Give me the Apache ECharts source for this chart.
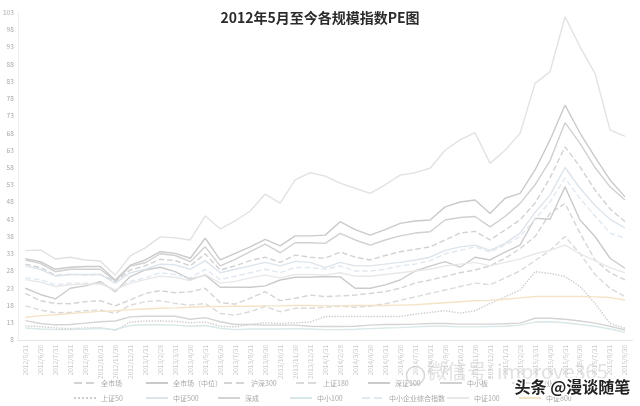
<!DOCTYPE html>
<html><head><meta charset="utf-8">
<script src="https://cdn.jsdelivr.net/npm/echarts@6/dist/echarts.min.js"></script>
<style>html,body{margin:0;padding:0;background:#fff}#c{width:640px;height:406px}</style>
</head><body><div id="c"></div>
<script>
const categories = ["2012/5/31","2012/6/30","2012/7/31","2012/8/31","2012/9/30","2012/10/31","2012/11/30","2012/12/31",
"2013/1/31","2013/2/28","2013/3/31","2013/4/30","2013/5/31","2013/6/30","2013/7/31","2013/8/31","2013/9/30","2013/10/31","2013/11/30","2013/12/31",
"2014/1/31","2014/2/28","2014/3/31","2014/4/30","2014/5/31","2014/6/30","2014/7/31","2014/8/31","2014/9/30","2014/10/31","2014/11/30","2014/12/31",
"2015/1/31","2015/2/28","2015/3/31","2015/4/30","2015/5/31","2015/6/30","2015/7/31","2015/8/31","2015/9/30"];
const yTicks = {min: 8, max: 103, step: 5};

const quanShiChang = [30,29,26.8,27,26.9,27,25,28.3,29.5,31.4,31,29.5,33,28.3,29.5,31,32,30.5,32.6,32,31.7,33.5,32,31.2,32.5,33.6,34.3,35,37,39,39.5,37,39.9,42.8,47.7,55,64,58.2,51.5,46,42.3];
const quanShiChangZhong = [31.6,30.7,28.5,29.1,29.3,29.3,25.4,29.7,31.2,33.6,33.1,31.7,37.5,31.2,33.1,35,37.2,35.3,38.2,38.2,38.4,42.3,40,38.4,40,41.8,42.5,42.8,46.6,48,48.6,44.7,49.1,50.5,57.3,66,76.1,68,61,54.4,49.5];
const hs300 = [21.5,19.4,18.6,18.5,19.1,19.4,17.9,19.6,21.5,22.3,21.7,22,23,18.8,18.4,20.1,22,19.4,20.1,21,20.6,20.8,21,21.5,22,23,24.5,25.4,26.4,27.5,28.3,29.5,31.7,34.5,38,44.7,47.6,39,31.2,27.5,25.4];
const sz180 = [17.9,16.7,15.9,16,16.5,16.7,15.7,18.1,19.1,19.4,18.6,18.1,18.6,15.7,15.2,16.2,17.7,16.2,17.2,17.2,17.5,17.8,17.5,17.8,18.5,19.5,20.5,21.5,22.5,23.5,24.5,24,26,28,31,34,38,33,27,23,20.6];
const szzs100 = [23,21.2,19.9,23,23.7,24.9,22,26.4,28.3,29.1,27.8,25.6,26.8,23.3,23.3,23.3,23.7,25.4,26.2,26.2,26.4,26.3,23,23,24,25.4,28,29.4,30.7,29.1,32,31.2,33.5,35.5,43.3,43,52.4,42.8,38,31.7,28.8];
const zhongXiao = [31.2,30.2,27.8,28.5,28.5,28.5,25.1,29.4,30.4,33,32.5,30.7,35,29.5,31.4,33.6,35.8,33.3,36.2,36.2,36,38.9,37,35.5,37,38.2,39,39.4,42.8,43.5,43.8,40.8,43.8,47.6,53,60,71,65,58,52.4,48.6];
const chuangYe = [33.9,34.1,31.5,32,31.2,30.9,26.8,32.4,34.7,37.9,37.6,37,44,40.2,42.5,45.4,50.3,47.7,54.4,56.5,55.5,53.5,52,50.5,53,55.8,56.5,57.8,63,66,68.1,59.2,63,67.9,82.4,85.8,101.7,93,85.3,68.9,67];
const sz50 = [12.1,11.9,11.5,11.3,11.5,11.6,10.8,13.2,13.5,13.5,13.4,13,13.2,12,11.8,12.5,13,12.8,13,13.2,14.8,14.8,14.8,14.8,14.8,14.8,15.5,16,16.5,15.8,16.5,18.6,20.5,22.5,27.8,27.3,26.4,23.5,18.6,12.8,11.4];
const zz500 = [29.5,28.5,26.5,27,27,27,24.5,27.5,28.5,30,29.8,28.5,31,27.5,28.5,29.5,30.5,29.5,30.8,30.5,29,30.5,29.5,29.5,30,30.5,31.2,32,34,35,35.5,34,36,39,45,50,58,52,47,43,40.5];
const shenCheng = [13.6,12.8,12.4,12.5,12.9,13.3,13.5,14.7,14.9,14.9,14.9,14,14.5,13.3,12.5,12.5,12.3,12.3,12.3,12,11.9,11.9,12,12.3,12.5,12.5,12.6,12.8,12.8,12.6,12.6,12.6,12.7,12.9,14.3,14.3,14,13.5,12.9,12,10.9];
const zz100 = [11.5,11.2,11,11,11.2,11.4,11,12.2,12.4,12.4,12.3,12,12.2,11.4,11,11.2,11.2,11.2,11.3,11.2,11,11,11.1,11.3,11.5,11.6,11.8,12,12,11.8,11.8,11.9,12,12.3,13.2,13.3,13,12.5,12,11.2,10.2];
const zxqy = [26,25.5,24,24.5,24.5,24.5,22.5,25,26,27.5,27,26,28.5,25.5,26.5,27.5,28.5,27.5,29,29,28.5,29.5,28,28,28.5,29.5,30,31,33,34,35,33.5,35.5,38,43,48,55,49,44,39,37.5];
const zz200 = [25.5,24.8,23.5,24,24.2,24.3,22.5,24.5,25.5,26.5,26.2,25.2,27,24.5,25,26,26.8,26,27,27,26.8,27.5,26.5,26.5,27,27.5,28,28.5,29.5,30,30.5,29.5,30.5,31.5,33,34,35.5,33,31,29,27.5];
const zz800 = [14.6,15,15.3,15.7,16,16.3,16.5,16.8,17,17.2,17.3,17.5,17.7,17.7,17.8,17.8,17.9,17.9,18,18,17.9,17.9,18,18,18,18.1,18.2,18.5,18.8,19.1,19.4,19.5,19.8,20.2,20.6,20.6,20.6,20.6,20.5,20.3,19.6];

const seriesDefs = [
  {name:"全市场", data:quanShiChang, color:"#d2d2d2", type:"dashed"},
  {name:"全市场（中位）", data:quanShiChangZhong, color:"#cacaca", type:"solid"},
  {name:"沪深300", data:hs300, color:"#d4d4d4", type:"dashed"},
  {name:"上证180", data:sz180, color:"#dadada", type:"dashed"},
  {name:"深证100", data:szzs100, color:"#cbcbcb", type:"solid"},
  {name:"中小板", data:zhongXiao, color:"#d0d0d0", type:"solid"},
  {name:"创业板", data:chuangYe, color:"#e2e2e2", type:"solid"},
  {name:"上证50", data:sz50, color:"#cccccc", type:"dotted"},
  {name:"中证500", data:zz500, color:"#dde4ec", type:"solid"},
  {name:"深成", data:shenCheng, color:"#d4d4d4", type:"solid"},
  {name:"中小100", data:zz100, color:"#d8e8e8", type:"solid"},
  {name:"中小企业综合指数", data:zxqy, color:"#e0e8f0", type:"dashed"},
  {name:"中证100", data:zz200, color:"#e8e8e8", type:"solid"},
  {name:"中证800", data:zz800, color:"#f4e3c6", type:"solid"}
];

const chart = echarts.init(document.getElementById('c'), null, {renderer:'canvas'});
const FONT = '"Noto Sans CJK SC", "Noto Sans", sans-serif';
chart.setOption({
  animation:false,
  backgroundColor:'#ffffff',
  title:{text:'2012年5月至今各规模指数PE图', left:'center', top:6,
    textStyle:{fontSize:14, fontWeight:'bold', color:'#2b2b2b', fontFamily:FONT}},
  legend:{show:true, left:73, top:376, width:540, itemGap:1, itemWidth:22, itemHeight:8,
    padding:0, itemStyle:{opacity:0},
    textStyle:{fontSize:7, color:'#a8a8a8', fontFamily:FONT, width:43, lineHeight:14, overflow:'none'},
    data: seriesDefs.map(s=>s.name)},
  grid:{left:17.5, right:7.5, top:12.3, bottom:66},
  xAxis:{type:'category', data:categories, boundaryGap:true,
    axisLine:{lineStyle:{color:'#e6e6e6'}}, axisTick:{show:false},
    axisLabel:{rotate:90, interval:0, fontSize:6.5, color:'#cacaca', fontFamily:FONT, margin:5}},
  yAxis:{type:'value', min:yTicks.min, max:yTicks.max, interval:yTicks.step,
    axisLine:{show:true, lineStyle:{color:'#efefef'}}, axisTick:{show:false}, splitLine:{show:false},
    axisLabel:{fontSize:6.5, color:'#a8a8a8', fontFamily:FONT, margin:4}},
  series: seriesDefs.map(s=>({name:s.name, type:'line', data:s.data, symbol:'none', smooth:false,
    itemStyle:{color:s.color},
    lineStyle:{color:s.color, width:1.4, type:s.type}})),
  graphic:[
    {type:'circle', left:404, top:364, z:100, shape:{r:9}, style:{fill:'none', stroke:'rgba(200,200,200,0.7)', lineWidth:1.5}},
    {type:'text', left:427, top:361, z:100, style:{text:'微信号: improve365', fontSize:20, fill:'rgba(205,205,205,0.6)', fontFamily:FONT}},
    {type:'text', left:513, top:377, z:101, style:{text:'头条 @漫谈随笔', fontSize:16, fontWeight:'bold', fill:'#222', stroke:'#fff', lineWidth:3, fontFamily:FONT}}
  ]
});
</script></body></html>
